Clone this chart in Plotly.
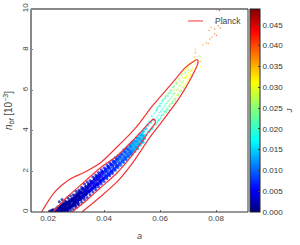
import plotly.graph_objects as go

outer_a = [.0177,.0196,.0225,.025,.0279,.0332,.0386,.0446,.0493,.0529,.0571,.0643,.0689,.0718,.0732,
           .0736,.0707,.0664,.06,.0564,.0504,.0446,.0386,.0321]
outer_n = [0,.44,1.0,1.33,1.63,1.97,2.41,3.2,3.85,4.42,5.2,6.35,7.1,7.4,7.51,
           7.39,6.5,5.52,4.33,3.69,2.46,1.48,.74,0]
inner_a = [.0218,.0268,.0325,.0386,.0446,.0504,.0564,.0575,.0582,.0582,.0564,.0504,.0446,.0386,.0339,.0286]
inner_n = [0,.74,1.43,2.17,2.76,3.55,4.43,4.56,4.53,4.38,4.04,2.86,1.92,1.18,.59,0]

pts_a = [
 .0205,.021,.0215,.022,.0225,.023,.0235,.024,.0245,.025,.0255,.026,
 .0215,.022,.023,.0235,.024,.0245,.025,.0255,.026,.0265,.027,.0275,
 .024,.0245,.025,.0255,.026,.0265,.027,.0275,.028,.0285,.029,.0295,
 .025,.026,.0265,.027,.0275,.028,.0285,.029,.0295,.030,.0305,.031,
 .0262,.0268,.0272,.0278,.0283,.0288,.0293,.0298,.0303,.0308,.0313,.0318,
 .0275,.028,.0286,.029,.0296,.030,.0306,.031,.0316,.032,.0326,.033,
 .029,.0295,.030,.0305,.031,.0315,.032,.0325,.033,.0335,.034,.0345,
 .0302,.0308,.0312,.0318,.0322,.0328,.0332,.0338,.0342,.0348,.0352,.0358,
 .032,.0325,.033,.0335,.034,.0345,.035,.0355,.036,.0365,.037,.0375,
 .0335,.034,.0347,.035,.0356,.036,.0366,.037,.0376,.038,.0386,.039,
 .036,.0365,.037,.0375,.038,.0385,.039,.0395,.040,.0405,.041,.0415,
 .0378,.0384,.0388,.0394,.0398,.0404,.0408,.0414,.0418,.0424,.0428,.0434,
 .040,.0406,.041,.0416,.042,.0426,.043,.0436,.044,.0446,.045,.0456,
 .0425,.043,.0435,.044,.0445,.045,.0455,.046,.0465,.047,.0475,.048,
 .0445,.045,.0458,.0462,.0468,.0472,.0478,.0482,.0488,.0492,.0498,.0502,
 .047,.0476,.048,.0486,.049,.0496,.050,.0506,.051,.0516,.052,.0526,
 .0495,.050,.0505,.051,.0515,.052,.0525,.053,.0535,.054,.0545,.055,
 .052,.0526,.053,.0536,.054,.0546,.055,.0556,.056,.0566,.057,.0576,
 .024,.025,.026,.027,.028,.029,.030,.031,.032,.033,.034,.035,.036,.037,.038,.039,.040,.041,.042,.043,.044,.045,.046,.047,.048,.049,.050,.051,.052,.053,.054,
 .025,.026,.027,.028,.029,.030,.031,.032,.033,.034,.035,.036,.037,.038,.039,.040,.041,.042,.043,.044,.045,.046,.047,.048,.049,.050,.051,.052,.053,.054,
 .0245,.0255,.0265,.0275,.0285,.0295,.0305,.0315,.0325,.0335,.0345,.0355,.0365,.0375,.0385,.0395,.0405,.0415,.0425,.0435,.0445,.0455,.0465,.0475,.0485,.0495,.0505,.0515,.0525,.0535,
 .0255,.0265,.0275,.0285,.0295,.0305,.0315,.0325,.0335,.0345,.0355,.0365,.0375,.0385,.0395,.0405,.0415,.0425,.0435,.0445,.0455,.0465,.0475,.0485,.0495,.0505,.0515,.0525,.0535,.0545,
 .024,.025,.026,.027,.028,.029,.030,.031,.032,.033,.034,.035,.036,.037,.038,.039,.040,.041,.042,.043,.044,.045,.046,.047,.048,.049,.050,.051,.052,.053,.054,
 .0245,.0255,.0265,.0275,.0285,.0295,.0305,.0315,.0325,.0335,.0345,.0355,.0365,.0375,.0385,.0395,.0405,.0415,.0425,.0435,.0445,.0455,.0465,.0475,.0485,.0495,.0505,.0515,.0525,.0535,
 .0245,.0255,.0265,.0275,.0285,.0295,.0305,.0315,.0325,.0335,.0345,.0355,.0365,.0375,.0385,.0395,.0405,.0415,.0425,.0435,.0445,.0455,.0465,.0475,.0485,.0495,.0505,.0515,.0525,.0535,
 .0242,.0252,.0262,.0272,.0282,.0292,.0302,.0312,.0322,.0332,.0342,.0352,.0362,.0372,.0382,.0392,.0402,.0412,.0422,.0432,.0442,.0452,.0462,.0472,.0482,.0492,.0502,.0512,.0522,.0532,.0542,
 .0248,.0258,.0268,.0278,.0288,.0298,.0308,.0318,.0328,.0338,.0348,.0358,.0368,.0378,.0388,.0398,.0408,.0418,.0428,.0438,.0448,.0458,.0468,.0478,.0488,.0498,.0508,.0518,.0528,.0538,
 .0545,.055,.0555,.056,.0565,.057,.0575,.058,.0585,.059,.0595,.060,
 .0582,.0588,.0592,.0598,.0602,.0608,.0612,.0618,.0622,.0628,.0632,.0638,
 .0605,.061,.0615,.062,.0625,.063,.0635,.064,.0645,.065,.0655,.066,
 .0645,.065,.0655,.066,.0665,.067,.0675,.068,.0685,.069,.0695,.070,
 .0685,.0695,.0705,.071,.0715,.072,.0725,.0725,.073,.0735,.0745,.0748,
 .0722,.0725,.0727,.0727,.0735,.0742,.0745,
 .0753,.0772,.0778,.0765,.0785,.0795,.0802,.0775,.0782,.0795,.0808,.0798,.0818,.0802,.0812,.0815,
 .0585,.059,.0595,.060,.0605,.061,.0615,.062,.0625,.063,.0635,.064,.0645,.065,.0655,.066,.0665,.067,.0675,.068,.0685,.069,.0695,.070,.0705,.071,
 .0585,.059,.0595,.060,.0605,.061,.0615,.062,.0625,.063,.0635,.064,.0645,.065,.0655,.066,.0665,.067,.0675,.068,.0685,.069,.0695,.070,.0705,.071,
 .0588,.0593,.0598,.0603,.0608,.0613,.0618,.0623,.0628,.0633,.0638,.0643,.0648,.0653,.0658,.0663,.0668,.0673,.0678,.0683,.0688,.0693,.0698,.0703,.0708,.0713,
 .0222,.0232,.0242,.0252,.0262,.0272,.0282,.0292,.0302,.0312,.0228,.0238,.0248,.0258,.0268,.0278,.0288,.0298,.0308,.0318,
]
pts_n = [
 .03,.08,.02,.12,.05,.18,.04,.22,.08,.27,.06,.12,
 .10,.03,.06,.26,.13,.30,.18,.38,.05,.42,.12,.22,
 .02,.20,.10,.30,.42,.20,.48,.32,.25,.55,.38,.70,
 .35,.15,.35,.08,.50,.18,.62,.30,.45,.72,.38,.90,
 .28,.12,.44,.22,.60,.36,.52,.30,.82,.58,.92,.66,
 .42,.55,.28,.70,.46,.86,.60,1.0,.72,1.12,.84,.98,
 .36,.62,.50,.80,.64,.96,.78,1.16,.90,1.26,1.02,1.38,
 .58,.44,.76,.62,.94,.72,1.06,.90,1.22,1.02,1.40,1.16,
 .72,.92,.80,1.12,.98,1.30,1.10,1.48,1.24,1.62,1.36,1.74,
 .86,1.18,1.02,1.36,1.16,1.52,1.28,1.70,1.40,1.82,1.56,1.96,
 1.16,1.42,1.22,1.60,1.38,1.80,1.52,1.98,1.68,2.12,1.78,2.24,
 1.36,1.72,1.46,1.88,1.62,2.04,1.72,2.18,1.86,2.34,1.96,2.46,
 1.66,1.98,1.74,2.18,1.88,2.34,2.02,2.50,2.12,2.62,2.28,2.74,
 2.00,2.30,2.10,2.48,2.24,2.66,2.38,2.84,2.50,2.98,2.64,3.10,
 2.26,2.62,2.40,2.86,2.54,3.02,2.68,3.18,2.82,3.30,2.96,3.42,
 2.62,2.96,2.74,3.14,2.90,3.32,3.04,3.48,3.18,3.66,3.32,3.80,
 2.98,3.24,3.06,3.42,3.20,3.60,3.34,3.80,3.50,3.98,3.64,4.10,
 3.34,3.70,3.50,3.90,3.62,4.10,3.80,4.28,3.96,4.42,4.10,4.56,
 .5,.62,.55,.72,.8,.85,1.02,1.08,1.22,1.38,1.48,1.55,1.72,1.82,1.95,2.08,2.18,2.32,2.42,2.55,2.68,2.78,2.9,3.05,3.12,3.28,3.38,3.52,3.66,3.8,3.95,
 0,0,.03,.08,.14,.22,.36,.48,.62,.72,.85,.98,1.1,1.24,1.38,1.5,1.64,1.78,1.9,2.05,2.18,2.3,2.44,2.58,2.7,2.82,2.98,3.12,3.3,3.44,
 .34,.44,.5,.62,.68,.8,.92,1.02,1.16,1.26,1.38,1.5,1.62,1.76,1.88,2.0,2.12,2.24,2.36,2.5,2.6,2.72,2.86,2.96,3.08,3.2,3.32,3.48,3.6,3.76,
 .06,.1,.18,.28,.36,.48,.6,.74,.86,.98,1.1,1.22,1.36,1.5,1.62,1.76,1.88,2.0,2.14,2.28,2.42,2.52,2.66,2.8,2.92,3.06,3.2,3.34,3.5,3.62,
 .15,.2,.25,.33,.42,.52,.62,.75,.88,1.0,1.1,1.22,1.35,1.48,1.6,1.72,1.85,1.98,2.1,2.22,2.35,2.48,2.6,2.72,2.85,2.98,3.1,3.25,3.4,3.55,3.7,
 .33,.38,.45,.53,.63,.73,.85,.97,1.1,1.21,1.32,1.44,1.57,1.7,1.82,1.95,2.07,2.2,2.32,2.44,2.57,2.7,2.82,2.94,3.08,3.2,3.34,3.49,3.64,3.8,
 .02,.06,.12,.2,.29,.39,.5,.63,.76,.86,.98,1.1,1.23,1.36,1.48,1.6,1.73,1.86,1.98,2.1,2.23,2.36,2.48,2.6,2.73,2.86,3.0,3.15,3.3,3.44,
 .23,.28,.33,.41,.5,.6,.7,.83,.96,1.08,1.18,1.3,1.43,1.56,1.68,1.8,1.93,2.06,2.18,2.3,2.43,2.56,2.68,2.8,2.93,3.06,3.18,3.33,3.48,3.63,3.78,
 .1,.15,.2,.28,.37,.47,.59,.71,.83,.95,1.06,1.18,1.31,1.44,1.56,1.68,1.81,1.93,2.05,2.17,2.3,2.43,2.55,2.67,2.8,2.93,3.07,3.22,3.37,3.52,
 3.72,4.24,3.94,4.46,4.02,4.72,4.18,4.86,4.36,5.08,4.50,5.22,
 4.30,5.00,4.48,5.24,4.62,5.46,4.80,5.60,4.92,5.72,5.02,5.86,
 4.74,5.50,4.92,5.66,5.04,5.84,5.20,6.02,5.36,6.18,5.48,6.34,
 5.42,6.04,5.60,6.30,5.76,6.44,5.92,6.62,6.10,6.84,6.24,7.00,
 6.06,6.70,6.60,6.78,7.10,6.90,7.30,7.52,7.10,7.46,7.16,7.62,
 7.64,7.82,8.02,7.90,7.36,7.68,7.42,
 8.24,8.30,8.52,8.34,8.62,8.78,8.70,8.94,9.10,9.02,9.18,9.34,9.28,9.96,9.92,9.06,
 5.0,5.15,5.2,5.35,5.35,5.5,5.55,5.7,5.75,5.85,5.95,6.0,6.15,6.2,6.35,6.4,6.55,6.6,6.75,6.8,6.95,7.0,7.1,7.15,7.3,7.35,
 4.3,4.4,4.55,4.6,4.75,4.8,4.95,5.0,5.1,5.2,5.3,5.35,5.45,5.55,5.6,5.75,5.8,5.95,6.0,6.15,6.2,6.3,6.4,6.5,6.55,6.7,
 4.65,4.75,4.9,4.95,5.05,5.15,5.25,5.35,5.45,5.5,5.6,5.7,5.8,5.85,6.0,6.05,6.2,6.25,6.35,6.45,6.6,6.65,6.75,6.85,6.95,7.0,
 .02,.16,.26,.12,.40,.24,.56,.46,.78,.70,.10,.05,.34,.18,.46,.36,.62,.62,.82,.96,
]
pts_j = [
 *[.0008]*12, *[.001]*12, *[.0012]*12, *[.0015]*12, *[.0018]*12, *[.002]*12, *[.0025]*12, *[.003]*12,
 *[.0035]*12, *[.004]*12, *[.005]*12, *[.006]*12, *[.007]*12, *[.0085]*12, *[.0105]*12, *[.012]*12,
 *[.0135]*12, *[.0155]*12,
 *[.001]*4, *[.002]*6, *[.0035]*5, *[.006]*5, *[.0085]*5, *[.012]*4, *[.015]*2,
 *[.001]*3, *[.002]*6, *[.0035]*5, *[.006]*5, *[.0085]*5, *[.012]*4, *[.015]*2,
 *[.001]*3, *[.002]*6, *[.0035]*5, *[.006]*5, *[.0085]*5, *[.012]*4, *[.015]*2,
 *[.001]*2, *[.002]*6, *[.0035]*5, *[.006]*5, *[.0085]*5, *[.012]*4, *[.015]*3,
 *[.0015]*6, *[.003]*5, *[.0045]*5, *[.007]*5, *[.0095]*5, *[.013]*5,
 *[.0015]*6, *[.003]*5, *[.0045]*5, *[.007]*5, *[.0095]*5, *[.013]*4,
 *[.0015]*6, *[.003]*5, *[.0045]*5, *[.007]*5, *[.0095]*5, *[.013]*4,
 *[.0015]*6, *[.003]*5, *[.0045]*5, *[.007]*5, *[.0095]*5, *[.013]*5,
 *[.0015]*6, *[.003]*5, *[.0045]*5, *[.007]*5, *[.0095]*5, *[.013]*4,
 *[.0175]*12, *[.0205]*12, *[.023]*12, *[.0265]*12, *[.031]*12,
 *[.0345]*7,
 .036,.038,.038,.037,.038,.039,.040,.038,.039,.040,.040,.039,.041,.043,.043,.040,
 *[.0195]*8, *[.0235]*6, *[.027]*6, *[.031]*6,
 *[.0195]*8, *[.0235]*6, *[.027]*6, *[.031]*6,
 *[.0195]*8, *[.0235]*6, *[.027]*6, *[.031]*6,
 *[.001]*10, *[.0015]*10,
]
pts_size = [3.0 if v < .017 else 1.8 if v < .033 else 1.5 for v in pts_j]

jet = [[0,"#00007f"],[.11,"#0000ff"],[.35,"#00ffff"],[.5,"#7fff7f"],[.64,"#ffff00"],[.89,"#ff0000"],[1,"#7f0000"]]
ticks_j = [0,.005,.01,.015,.02,.025,.03,.035,.04,.045]

fig = go.Figure()
fig.add_trace(go.Scatter(x=pts_a, y=pts_n, mode="markers", showlegend=False, cliponaxis=True,
    marker=dict(size=pts_size, color=pts_j, cmin=0, cmax=.0488, colorscale=jet, line=dict(width=0),
        colorbar=dict(thickness=10, thicknessmode="pixels", len=1, lenmode="fraction", x=1.01, xanchor="left",
            y=.5, yanchor="middle", tickvals=ticks_j, tickformat=".3f", ticks="inside", ticklen=2,
            tickfont=dict(size=8, color="#333", family="Liberation Sans"), outlinecolor="#222", outlinewidth=1,
            xpad=0, ypad=0, title=dict(text="<i>J</i>", side="right", font=dict(size=8, color="#333"))))))
fig.add_trace(go.Scatter(x=outer_a, y=outer_n, mode="lines", showlegend=False, line=dict(color="#f03535", width=1.2, shape="spline", smoothing=.7)))
fig.add_trace(go.Scatter(x=inner_a, y=inner_n, mode="lines", showlegend=False, line=dict(color="#f03535", width=1.2, shape="spline", smoothing=.7)))

fig.update_layout(width=300, height=245, margin=dict(l=31, r=52, t=9, b=33, autoexpand=False), plot_bgcolor="white", paper_bgcolor="white",
    font=dict(family="Liberation Sans", size=8, color="#444"), showlegend=False,
    xaxis=dict(range=[.0139,.0914], tickvals=[.02,.04,.06,.08], tickformat=".2f", ticks="inside", ticklen=2, tickcolor="#777",
        showgrid=False, zeroline=False, title=dict(text="<i>a</i>", standoff=10, font=dict(size=9))),
    yaxis=dict(range=[0,10], tickvals=[0,2,4,6,8,10], tickangle=-90, ticks="inside", ticklen=2, tickcolor="#777",
        showgrid=False, zeroline=False, title=dict(text="<i>n<sub>bf</sub></i> [10<sup>−3</sup>]", standoff=6, font=dict(size=10))),
    annotations=[dict(text="Planck", xref="paper", yref="paper", x=.8387, y=.941, xanchor="left", yanchor="middle", showarrow=False, font=dict(size=8.5))],
    shapes=[
        dict(type="line", xref="paper", yref="paper", x0=.7235, x1=.7926, y0=.941, y1=.941, line=dict(color="#f03535", width=1)),
        dict(type="line", xref="paper", yref="paper", x0=0, x1=0, y0=0, y1=1, line=dict(color="#888", width=2)),
        dict(type="line", xref="paper", yref="paper", x0=0, x1=1, y0=1, y1=1, line=dict(color="#888", width=2)),
        dict(type="line", xref="paper", yref="paper", x0=0, x1=1, y0=0, y1=0, line=dict(color="#333", width=1)),
        dict(type="line", xref="paper", yref="paper", x0=1, x1=1, y0=0, y1=1, line=dict(color="#333", width=1)),
    ])
assert len(pts_a) == len(pts_n) == len(pts_j), (len(pts_a), len(pts_n), len(pts_j))
fig.write_html("out.html", config=dict(displayModeBar=False), post_script="document.body.style.margin='0';document.body.style.overflow='hidden';")
